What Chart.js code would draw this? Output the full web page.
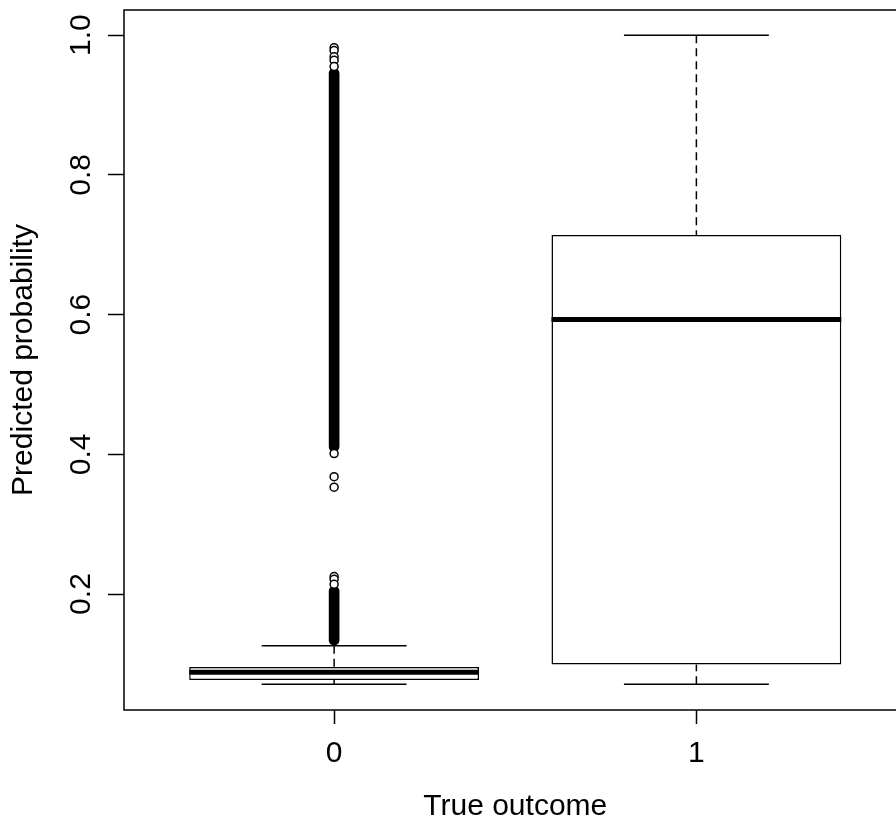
<!DOCTYPE html>
<html>
<head>
<meta charset="utf-8">
<title>Predicted probability by true outcome</title>
<script src="https://cdn.jsdelivr.net/npm/chart.js@4.4.1/dist/chart.umd.min.js"></script>
<style>
  html, body { margin: 0; padding: 0; background: #fff; overflow: hidden; }
  canvas { display: block; }
</style>
</head>
<body>
<canvas id="boxChart" width="912" height="821"></canvas>
<script>
// groups on the x axis and where they sit
let groups = ['0', '1'];
let groupPos = [1, 2];

// five-number summary of each group
let whiskerLow  = [0.071, 0.071];
let boxLow      = [0.077, 0.099];
let medians     = [0.088, 0.593];
let boxHigh     = [0.0955, 0.714];
let whiskerHigh = [0.126, 1.0];

// outliers of group 0: single points, plus runs packed so tight they read as a solid stroke
let outliers0 = [0.982, 0.978, 0.969, 0.964, 0.955, 0.401, 0.368, 0.353, 0.225, 0.221, 0.214];
let outlierRuns0 = [[0.404, 0.952], [0.127, 0.211]];

let yTicks = [0.2, 0.4, 0.6, 0.8, 1.0];

const FONT = "'Liberation Sans', Arial, sans-serif";
const FONT_SIZE = 30;
const boxWex = 0.8;   // box width in x units, like R's boxwex
const BOX_INDEX = 2;

Chart.defaults.font.family = FONT;
Chart.defaults.color = '#000';

// whiskers, staples and medians, drawn right after the boxes so they sit on top of the white fill
const boxParts = {
  id: 'boxParts',
  afterDatasetDraw(chart, args) {
    if (args.index !== BOX_INDEX) return;
    const ctx = chart.ctx, xs = chart.scales.x, ys = chart.scales.y;
    ctx.save();
    ctx.strokeStyle = '#000';
    groupPos.forEach((g, i) => {
      const cx = xs.getPixelForValue(g);
      // dashed whiskers, from the end towards the box
      ctx.lineWidth = 1.5;
      ctx.setLineDash([8, 5]);
      ctx.beginPath();
      ctx.moveTo(cx, ys.getPixelForValue(whiskerHigh[i]));
      ctx.lineTo(cx, ys.getPixelForValue(boxHigh[i]));
      ctx.moveTo(cx, ys.getPixelForValue(whiskerLow[i]));
      ctx.lineTo(cx, ys.getPixelForValue(boxLow[i]));
      ctx.stroke();
      ctx.setLineDash([]);
      // staples, half the box width
      const s0 = xs.getPixelForValue(g - boxWex / 4), s1 = xs.getPixelForValue(g + boxWex / 4);
      ctx.beginPath();
      [whiskerHigh[i], whiskerLow[i]].forEach(v => {
        const py = ys.getPixelForValue(v);
        ctx.moveTo(s0, py);
        ctx.lineTo(s1, py);
      });
      ctx.stroke();
      // median
      ctx.lineWidth = 5;
      ctx.lineCap = 'butt';
      const my = ys.getPixelForValue(medians[i]);
      ctx.beginPath();
      ctx.moveTo(xs.getPixelForValue(g - boxWex / 2), my);
      ctx.lineTo(xs.getPixelForValue(g + boxWex / 2), my);
      ctx.stroke();
    });
    ctx.restore();
  }
};

// box round the plot region and the y tick labels, written along the axis
const frame = {
  id: 'frame',
  afterDraw(chart) {
    const ctx = chart.ctx, a = chart.chartArea, ys = chart.scales.y;
    ctx.save();
    ctx.strokeStyle = '#000';
    ctx.lineWidth = 1.5;
    ctx.strokeRect(a.left, a.top, a.right - a.left, a.bottom - a.top);
    ctx.fillStyle = '#000';
    ctx.font = FONT_SIZE + 'px ' + FONT;
    ctx.textAlign = 'center';
    ctx.textBaseline = 'alphabetic';
    ys.ticks.forEach(t => {
      ctx.save();
      ctx.translate(90, ys.getPixelForValue(t.value));
      ctx.rotate(-Math.PI / 2);
      ctx.fillText(t.label, 0, 0);
      ctx.restore();
    });
    ctx.restore();
  }
};

new Chart(document.getElementById('boxChart'), {
  type: 'bar',
  data: {
    datasets: [
      {
        type: 'line',
        showLine: false,
        data: outliers0.map(v => ({ x: groupPos[0], y: v })),
        pointStyle: 'circle',
        pointRadius: 4,
        pointBorderWidth: 1.5,
        pointBorderColor: '#000',
        pointBackgroundColor: '#fff',
        order: 0
      },
      {
        data: outlierRuns0.map(r => ({ x: groupPos[0], y: r })),
        backgroundColor: '#000',
        borderWidth: 0,
        barThickness: 10,
        borderRadius: 5,
        borderSkipped: false,
        grouped: false,
        order: 1
      },
      {
        data: groupPos.map((g, i) => ({ x: g, y: [boxLow[i], boxHigh[i]] })),
        backgroundColor: '#fff',
        borderColor: '#000',
        borderWidth: 1.5,
        borderSkipped: false,
        barPercentage: 1,
        categoryPercentage: boxWex,
        grouped: false,
        order: 2
      }
    ]
  },
  options: {
    responsive: false,
    animation: false,
    devicePixelRatio: 1,
    layout: { padding: { top: 10, right: 1, left: 0, bottom: 0 } },
    plugins: { legend: { display: false }, tooltip: { enabled: false } },
    scales: {
      x: {
        type: 'linear',
        min: 0.42,
        max: 2.58,
        offset: false,
        afterBuildTicks: s => { s.ticks = groupPos.map(v => ({ value: v })); },
        afterFit: s => { s.height = 111; },
        ticks: {
          callback: v => groups[groupPos.indexOf(v)],
          font: { size: FONT_SIZE },
          padding: 12,
          maxRotation: 0
        },
        grid: { offset: false, drawOnChartArea: false, tickLength: 14, tickColor: '#000', tickWidth: 1.5 },
        border: { display: false },
        title: { display: true, text: 'True outcome', font: { size: FONT_SIZE }, padding: { top: 0, bottom: -4 } }
      },
      y: {
        min: 0.034,
        max: 1.036,
        afterBuildTicks: s => { s.ticks = yTicks.map(v => ({ value: v })); },
        afterFit: s => { s.width = 124; },
        ticks: { display: false, callback: v => v.toFixed(1) },
        grid: { drawOnChartArea: false, tickLength: 16, tickColor: '#000', tickWidth: 1.5 },
        border: { display: false },
        title: { display: true, text: 'Predicted probability', font: { size: FONT_SIZE }, padding: { top: 6, bottom: 0 } }
      }
    }
  },
  plugins: [boxParts, frame]
});
</script>
</body>
</html>
